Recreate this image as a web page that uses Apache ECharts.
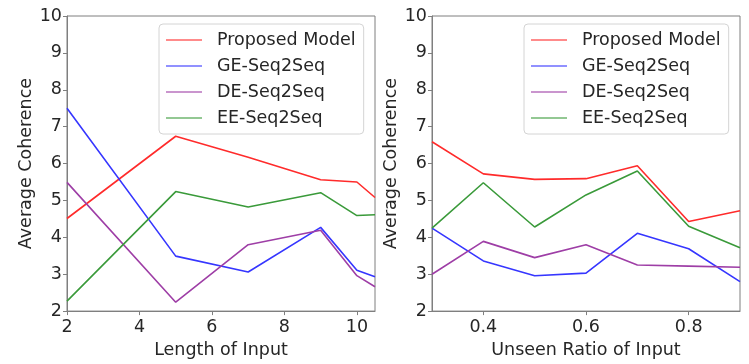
<!DOCTYPE html>
<html><head><meta charset="utf-8">
<script src="https://cdn.jsdelivr.net/npm/echarts@6/dist/echarts.min.js"></script>
<style>html,body{margin:0;padding:0;background:#fff}#c{width:749px;height:364px}</style>
</head><body><div id="c"></div>
<script>
const seriesNames = ['Proposed Model', 'GE-Seq2Seq', 'DE-Seq2Seq', 'EE-Seq2Seq'];
const seriesColors = ['#ff2b2b', '#3636ff', '#9e3ea6', '#3a9a3a'];

const lengthX = [2, 5, 7, 9, 10, 10.5];
const lenProposed = [4.51, 6.74, 6.17, 5.56, 5.50, 5.08];
const lenGE = [7.50, 3.49, 3.06, 4.27, 3.11, 2.93];
const lenDE = [5.49, 2.24, 3.80, 4.19, 2.96, 2.66];
const lenEE = [2.27, 5.24, 4.82, 5.21, 4.59, 4.61];

const ratioX = [0.3, 0.4, 0.5, 0.6, 0.7, 0.8, 0.9];
const ratioProposed = [6.59, 5.72, 5.57, 5.59, 5.94, 4.43, 4.72];
const ratioGE = [4.25, 3.36, 2.96, 3.03, 4.11, 3.69, 2.80];
const ratioDE = [3.00, 3.89, 3.45, 3.80, 3.25, 3.22, 3.19];
const ratioEE = [4.25, 5.48, 4.28, 5.15, 5.80, 4.30, 3.72];

const lenTicks = [2, 4, 6, 8, 10];
const ratioTicks = [0.4, 0.6, 0.8];
const yTicks = [2, 3, 4, 5, 6, 7, 8, 9, 10];

const FONT = 'DejaVu Sans';
const TXT = '#262626';
const SPINE = '#7f7f7f';
const FS = 17.5;

function zip(xs, ys) { return xs.map((x, i) => [x, ys[i]]); }

function xAxis(gridIndex, name, min, max, ticks, fmt) {
  return {
    type: 'value', gridIndex, min, max, name,
    nameLocation: 'middle', nameGap: 23,
    nameTextStyle: { fontFamily: FONT, fontSize: FS, color: TXT },
    axisLine: { show: true, lineStyle: { color: SPINE, width: 1 } },
    axisTick: { show: true, inside: false, length: 4, customValues: ticks, lineStyle: { color: SPINE } },
    axisLabel: { customValues: ticks, margin: 7, fontFamily: FONT, fontSize: FS, color: TXT, formatter: fmt },
    splitLine: { show: false }
  };
}
function yAxis(gridIndex) {
  return {
    type: 'value', gridIndex, min: 2, max: 10, interval: 1,
    name: 'Average Coherence', nameLocation: 'middle', nameGap: 30,
    nameTextStyle: { fontFamily: FONT, fontSize: FS, color: TXT },
    axisLine: { show: true, lineStyle: { color: SPINE, width: 1 } },
    axisTick: { show: true, inside: false, length: 4, customValues: yTicks, lineStyle: { color: SPINE } },
    axisLabel: { customValues: yTicks, margin: 5, fontFamily: FONT, fontSize: FS, color: TXT },
    splitLine: { show: false }
  };
}
function legend(left) {
  return {
    data: seriesNames, orient: 'vertical', left, top: 24, align: 'left',
    icon: 'rect', itemWidth: 36, itemHeight: 2, itemGap: 8,
    itemStyle: { opacity: 0.55 },
    backgroundColor: '#fff', borderColor: '#d4d4d4', borderWidth: 1, borderRadius: 4,
    padding: [7, 8, 7, 7],
    textStyle: { fontFamily: FONT, fontSize: FS, color: TXT, lineHeight: 18, padding: [0, 0, 0, 10] },
    selectedMode: false
  };
}

const lenData = [lenProposed, lenGE, lenDE, lenEE];
const ratioData = [ratioProposed, ratioGE, ratioDE, ratioEE];
const series = [];
seriesNames.forEach((n, i) => {
  series.push({ name: n, type: 'line', xAxisIndex: 0, yAxisIndex: 0, data: zip(lengthX, lenData[i]),
    symbol: 'none', showSymbol: false, color: seriesColors[i], lineStyle: { width: 1.6, color: seriesColors[i] }, z: 2 });
});
seriesNames.forEach((n, i) => {
  series.push({ name: n, type: 'line', xAxisIndex: 1, yAxisIndex: 1, data: zip(ratioX, ratioData[i]),
    symbol: 'none', showSymbol: false, color: seriesColors[i], lineStyle: { width: 1.6, color: seriesColors[i] }, z: 2 });
});

const chart = echarts.init(document.getElementById('c'), null, { renderer: 'canvas' });
chart.setOption({
  animation: false,
  backgroundColor: '#fff',
  grid: [
    { left: 67, top: 16, width: 308, height: 305, show: true, borderColor: SPINE, borderWidth: 1, backgroundColor: 'transparent' },
    { left: 432, top: 16, width: 308, height: 305, show: true, borderColor: SPINE, borderWidth: 1, backgroundColor: 'transparent' }
  ],
  legend: [legend(159), legend(524)],
  xAxis: [
    xAxis(0, 'Length of Input', 2, 10.5, lenTicks, v => String(v)),
    xAxis(1, 'Unseen Ratio of Input', 0.3, 0.9, ratioTicks, v => v.toFixed(1))
  ],
  yAxis: [yAxis(0), yAxis(1)],
  series
});
</script></body></html>
